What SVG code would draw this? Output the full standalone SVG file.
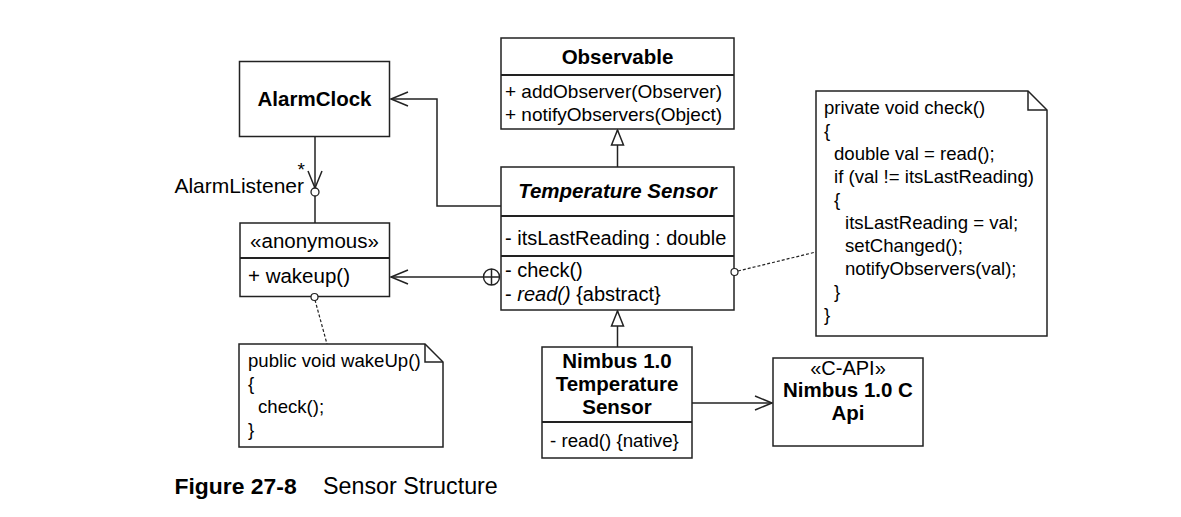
<svg xmlns="http://www.w3.org/2000/svg" width="1181" height="517" viewBox="0 0 1181 517">
<style>
  .box{fill:#fff;stroke:#222;stroke-width:1.5}
  .div{stroke:#222;stroke-width:1.8}
  .ln{fill:none;stroke:#222;stroke-width:1.5}
  .dot{fill:none;stroke:#222;stroke-width:1.2;stroke-dasharray:3 2}
  .t{font-family:"Liberation Sans",Arial,Helvetica,sans-serif;fill:#000}
  .b{font-weight:bold;font-size:20.5px;text-anchor:middle}
  .m{font-size:20px}
  .n{font-size:18.6px}
  .c{text-anchor:middle}
</style>
<defs>
  <marker id="open" markerUnits="userSpaceOnUse" markerWidth="20" markerHeight="18" refX="17" refY="7" orient="auto" overflow="visible">
    <path d="M0,0 L17,7 L0,14" fill="none" stroke="#222" stroke-width="1.5"/>
  </marker>
  <marker id="tri" markerUnits="userSpaceOnUse" markerWidth="18" markerHeight="14" refX="15" refY="6" orient="auto" overflow="visible">
    <path d="M0,0 L15,6 L0,12 Z" fill="#fff" stroke="#222" stroke-width="1.5"/>
  </marker>
</defs>
<rect width="1181" height="517" fill="#fff"/>

<g id="connectors">
  <path class="ln" d="M501,206 H437 V99 H391" marker-end="url(#open)"/>
  <path class="ln" d="M315,136 V188" marker-end="url(#open)"/>
  <path class="ln" d="M315,196 V223"/>
  <path class="ln" d="M484,277 H391" marker-end="url(#open)"/>
  <path class="ln" d="M617.5,167 V130" marker-end="url(#tri)"/>
  <path class="ln" d="M617.5,347 V311" marker-end="url(#tri)"/>
  <path class="ln" d="M692,403 H772" marker-end="url(#open)"/>
  <path class="dot" d="M738,271 L816,252"/>
  <path class="dot" d="M315,300 L327,344"/>
</g>

<g id="AlarmClock">
  <rect class="box" x="239.5" y="61.5" width="150" height="75"/>
  <text class="t b" x="314.5" y="106">AlarmClock</text>
</g>

<g id="AlarmListener">
  <circle cx="315" cy="192" r="4" fill="#fff" stroke="#222" stroke-width="1.3"/>
  <text class="t" x="297.5" y="175.5" font-size="19">*</text>
  <text class="t" x="304" y="193" text-anchor="end" font-size="21">AlarmListener</text>
</g>

<g id="anonymous">
  <rect class="box" x="240" y="223" width="149.5" height="73.5"/>
  <line class="div" x1="240" y1="258" x2="389.5" y2="258"/>
  <text class="t c" x="314.5" y="248" font-size="20.5">«anonymous»</text>
  <text class="t" x="248" y="283" font-size="20.5">+ wakeup()</text>
  <circle cx="314.5" cy="297" r="3.5" fill="#fff" stroke="#222" stroke-width="1.2"/>
</g>

<g id="Observable">
  <rect class="box" x="501" y="38" width="233" height="91"/>
  <line class="div" x1="501" y1="75" x2="734" y2="75" stroke-width="2.2"/>
  <text class="t b" x="617.5" y="64">Observable</text>
  <text class="t" x="505" y="98" font-size="19">+ addObserver(Observer)</text>
  <text class="t" x="505" y="121" font-size="19">+ notifyObservers(Object)</text>
</g>

<g id="TemperatureSensor">
  <rect class="box" x="501" y="167" width="233" height="143"/>
  <line class="div" x1="501" y1="216" x2="734" y2="216"/>
  <line class="div" x1="501" y1="256" x2="734" y2="256"/>
  <text class="t b" x="617.5" y="198" font-style="italic">Temperature Sensor</text>
  <text class="t m" x="505" y="245">- itsLastReading : double</text>
  <text class="t m" x="505" y="277">- check()</text>
  <text class="t m" x="505" y="301">- <tspan font-style="italic">read()</tspan> {abstract}</text>
  <circle cx="491.5" cy="277" r="8" fill="#fff" stroke="#222" stroke-width="1.4"/>
  <path class="ln" d="M483.5,277 H499.5 M491.5,269 V285" stroke-width="1.3"/>
  <circle cx="734.5" cy="272" r="3.5" fill="#fff" stroke="#222" stroke-width="1.2"/>
</g>

<g id="CheckNote">
  <path class="box" d="M816,91 H1028 L1047,110 V336 H816 Z"/>
  <path class="ln" d="M1028,91 V110 H1047" stroke-width="1.2"/>
  <text class="t n" x="824" y="113.5">private void check()</text>
  <text class="t n" x="824" y="136.5">{</text>
  <text class="t n" x="834" y="159.5">double val = read();</text>
  <text class="t n" x="834" y="182.5">if (val != itsLastReading)</text>
  <text class="t n" x="834" y="205.5">{</text>
  <text class="t n" x="845" y="228.5">itsLastReading = val;</text>
  <text class="t n" x="845" y="251.5">setChanged();</text>
  <text class="t n" x="845" y="274.5">notifyObservers(val);</text>
  <text class="t n" x="834" y="297.5">}</text>
  <text class="t n" x="824" y="320.5">}</text>
</g>

<g id="WakeUpNote">
  <path class="box" d="M239,344 H425 L443,362 V447 H239 Z"/>
  <path class="ln" d="M425,344 V362 H443" stroke-width="1.2"/>
  <text class="t n" x="248" y="366.5">public void wakeUp()</text>
  <text class="t n" x="248" y="389.5">{</text>
  <text class="t n" x="258" y="412.5">check();</text>
  <text class="t n" x="248" y="435.5">}</text>
</g>

<g id="Nimbus">
  <rect class="box" x="542" y="347" width="150" height="111"/>
  <line class="div" x1="542" y1="422" x2="692" y2="422" stroke-width="2"/>
  <text class="t b" x="617" y="368">Nimbus 1.0</text>
  <text class="t b" x="617" y="391">Temperature</text>
  <text class="t b" x="617" y="414">Sensor</text>
  <text class="t" x="550" y="447" font-size="18.7">- read() {native}</text>
</g>

<g id="CAPI">
  <rect class="box" x="773" y="358" width="150" height="88"/>
  <text class="t c" x="848" y="375" font-size="20">«C-API»</text>
  <text class="t b" x="848" y="397">Nimbus 1.0 C</text>
  <text class="t b" x="848" y="420">Api</text>
</g>

<g id="caption">
  <text class="t" x="174.5" y="494" font-size="22.9" font-weight="bold">Figure 27-8</text>
  <text class="t" x="323" y="494" font-size="23.3">Sensor Structure</text>
</g>
</svg>
